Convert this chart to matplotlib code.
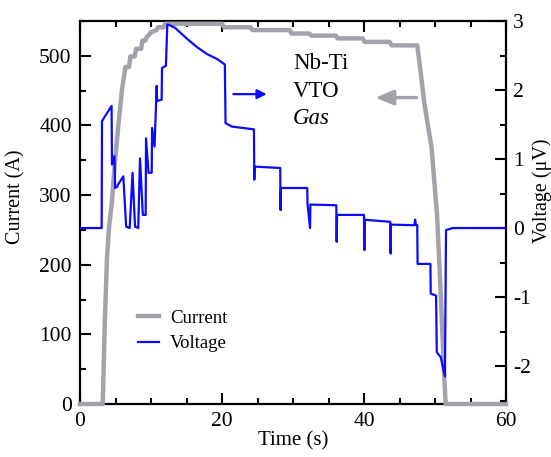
import numpy as np
import matplotlib
matplotlib.use("Agg")
import matplotlib.pyplot as plt
from matplotlib.ticker import MultipleLocator

plt.rcParams['font.family'] = ['Liberation Serif', 'DejaVu Serif']
plt.rcParams['axes.unicode_minus'] = False

# current trace (A) vs time (s)
t_current = [0, 3.2, 3.5, 3.8, 4.1, 4.5, 4.9, 5.4, 5.9, 6.2, 6.4, 6.9, 7.1, 7.7, 7.9,
             8.6, 8.8, 9.2, 9.4, 9.7, 10.0, 10.8, 11.0, 11.8, 12.0, 20.0, 20.3, 24.0,
             24.3, 29.5, 29.8, 32.3, 32.6, 36.0, 36.3, 39.8, 40.1, 43.6, 43.9, 47.5,
             48.0, 48.5, 49.0, 49.5, 49.9, 50.3, 50.8, 51.3, 51.5, 60]
current = [0, 0, 120, 210, 255, 291, 345, 400, 450, 470, 484, 484, 499, 499, 510,
           510, 522, 522, 527, 530, 534, 537, 541, 541, 546, 546, 541, 541,
           537, 537, 532, 532, 529, 529, 525, 525, 520, 520, 515, 515,
           475, 432, 400, 370, 320, 270, 160, 40, 0, 0]

# voltage trace (uV) vs time (s)
t_voltage = [0, 3.05, 3.1, 4.45, 4.5, 4.85, 4.95, 5.25, 5.3, 6.1, 6.5, 7.0, 7.4, 7.75,
             8.2, 8.45, 8.85, 9.25, 9.3, 9.65, 10.1, 10.15, 10.5, 10.8, 10.85, 11.5,
             11.55, 12.1, 12.3, 12.6, 13.4, 15.1, 16.5, 17.9, 19.3, 20.4, 20.5, 21.4,
             24.5, 24.55, 24.6, 28.2, 28.25, 28.3, 32.0, 32.05, 32.4, 32.45, 36.1,
             36.15, 36.2, 40.0, 40.05, 40.1, 43.7, 43.75, 43.8, 47.1, 47.2, 47.3,
             47.5, 47.55, 49.35, 49.4, 50.15, 50.25, 50.8, 51.4, 51.55, 52.5, 60]
voltage = [0, 0, 1.55, 1.77, 0.92, 1.04, 0.58, 0.6, 0.62, 0.75, 0.02, 0.0, 0.8, 0.02,
           0.0, 1.01, 0.19, 0.19, 1.3, 0.8, 0.8, 1.45, 1.18, 2.06, 1.84, 1.86,
           2.32, 2.35, 2.95, 2.94, 2.9, 2.74, 2.62, 2.52, 2.45, 2.37, 1.52, 1.47,
           1.43, 0.70, 0.89, 0.87, 0.26, 0.58, 0.58, 0.34, 0.0, 0.34, 0.33,
           -0.2, 0.19, 0.19, -0.32, 0.12, 0.09, -0.37, 0.05, 0.04, 0.12, 0.05,
           0.04, -0.52, -0.52, -0.95, -0.98, -1.80, -1.87, -2.15, -0.03, 0.0, 0.0]

gray = '#a2a2aa'
blue = '#0a0aff'

fig = plt.figure(figsize=(5.51, 4.57), dpi=100)
ax = fig.add_axes([80/551, 53/457, 426/551, 383/457])
ax2 = ax.twinx()

l1, = ax.plot(t_current, current, color=gray, lw=3.2, clip_on=False, zorder=3,
              label='Current')
l2, = ax2.plot(t_voltage, voltage, color=blue, lw=1.6, label='Voltage')

ax.set_xlim(0, 60)
ax.set_ylim(0, 550)
ax2.set_ylim(-2.55, 3)

ax.xaxis.set_major_locator(MultipleLocator(20))
ax.xaxis.set_minor_locator(MultipleLocator(5))
ax.yaxis.set_major_locator(MultipleLocator(100))
ax.yaxis.set_minor_locator(MultipleLocator(50))
ax2.yaxis.set_major_locator(MultipleLocator(1))
ax2.yaxis.set_minor_locator(MultipleLocator(0.5))

for s in ax.spines.values():
    s.set_linewidth(1.6)
for s in ax2.spines.values():
    s.set_visible(False)

ax.tick_params(which='both', direction='in', top=True, right=False, width=1.5,
               labelsize=15.5, pad=6)
ax.tick_params(which='major', length=8)
ax.tick_params(which='minor', length=4.5)
ax2.tick_params(which='both', direction='in', width=1.5, labelsize=15.5, pad=5)
ax2.tick_params(which='major', length=8)
ax2.tick_params(which='minor', length=4.5)

ax.set_xlabel('Time (s)', fontsize=15, labelpad=0)
ax.set_ylabel('Current (A)', fontsize=14.5)
ax2.set_ylabel('Voltage (μV)', fontsize=14.5)
ax.yaxis.set_label_coords(-0.129, 0.54)
ax2.yaxis.set_label_coords(1.062, 0.556)

ax.text(30.0, 489, 'Nb-Ti', fontsize=16.5, va='center')
ax.text(30.0, 449, 'VTO', fontsize=16.5, va='center')
ax.text(30.0, 410, 'Gas', fontsize=16.5, va='center', style='italic')

ax2.annotate('', xy=(26.3, 1.94), xytext=(21.6, 1.94),
             arrowprops=dict(arrowstyle='-|>', color=blue, lw=1.6,
                             mutation_scale=14, shrinkA=0, shrinkB=0))
ax.annotate('', xy=(41.6, 440), xytext=(47.4, 440),
            arrowprops=dict(arrowstyle='-|>,head_length=0.6,head_width=0.25',
                            color=gray, lw=2.4, mutation_scale=18,
                            shrinkA=0, shrinkB=0))

ax2.legend([l1, l2], ['Current', 'Voltage'], frameon=False, loc='center left',
           bbox_to_anchor=((138 - 80) / 426, (404 - 331) / 383), borderpad=0,
           borderaxespad=0, handlelength=1.1, handletextpad=0.6,
           labelspacing=0.45, fontsize=13.5)

fig.savefig('out.png', dpi=100)
